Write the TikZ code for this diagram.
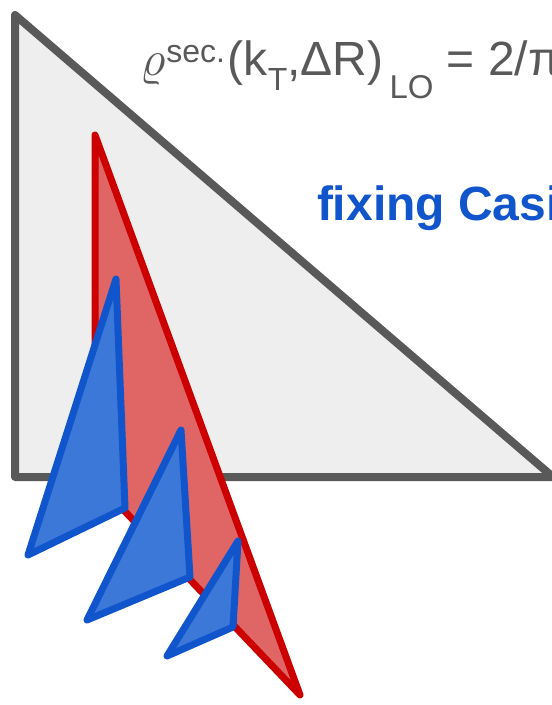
\documentclass[tikz,border=0pt]{standalone}
\usepackage{fix-cm}
\usepackage{fontspec}
\setmainfont{Liberation Sans}
\definecolor{graystroke}{HTML}{595959}
\definecolor{grayfill}{HTML}{EEEEEE}
\definecolor{redstroke}{HTML}{CC0000}
\definecolor{redfill}{HTML}{E06666}
\definecolor{bluestroke}{HTML}{1155CC}
\definecolor{bluefill}{HTML}{3C78D8}
\tikzset{
  graytri/.style={draw=graystroke, fill=grayfill, line width=8pt, line join=round},
  redtri/.style={draw=redstroke, fill=redfill, line width=7pt, line join=round},
  bluetri/.style={draw=bluestroke, fill=bluefill, line width=7pt, line join=round},
  txt/.style={anchor=base west, inner sep=0pt, outer sep=0pt}
}
\begin{document}
\begin{tikzpicture}[x=1pt, y=-1pt]
\useasboundingbox (0,0) rectangle (552,705);
\clip (0,0) rectangle (552,705);
\fill[white] (0,0) rectangle (552,705);
% big gray triangle
\draw[graytri] (15,15) -- (15,477) -- (553,477) -- cycle;
% formula
\node[txt, text=graystroke, font=\fontsize{48}{48}\selectfont] (formula) at (140,75)
  {\fontsize{50}{50}\selectfont$\varrho$\hspace{1pt}\raisebox{13pt}{\fontsize{32}{32}\selectfont sec.}\hspace{3pt}\fontsize{48}{48}\selectfont(k\raisebox{-15pt}{\fontsize{32}{32}\selectfont T},ΔR)\hspace{6pt}\raisebox{-23pt}{\fontsize{33}{33}\selectfont LO} = 2/π};
% blue text
\node[txt, text=bluestroke, font=\fontsize{48}{48}\selectfont\bfseries] (fixing) at (317,220) {fixing Casi};
% red triangle
\draw[redtri] (95,135) -- (300,695) -- (95,480) -- cycle;
% blue triangles
\draw[bluetri] (116,279) -- (125,508) -- (28,555) -- cycle;
\draw[bluetri] (181,430) -- (190,577) -- (87,620) -- cycle;
\draw[bluetri] (238,541) -- (233,627) -- (167,656) -- cycle;
\end{tikzpicture}
\end{document}
